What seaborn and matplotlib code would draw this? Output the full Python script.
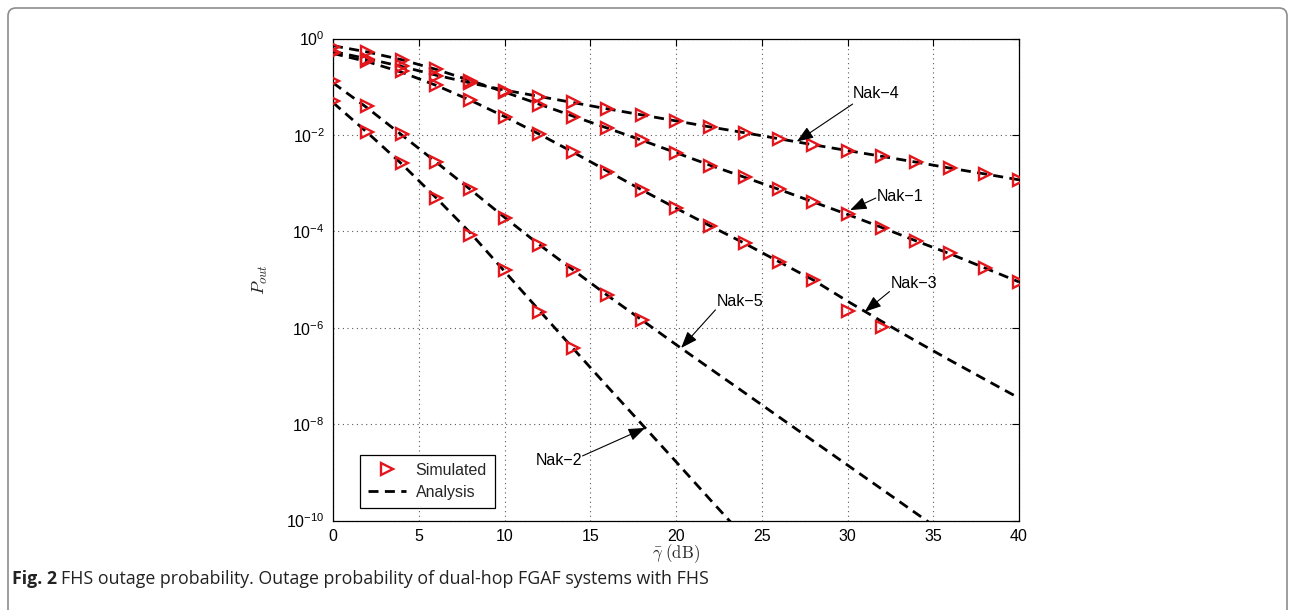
import matplotlib
matplotlib.use("Agg")
import matplotlib.pyplot as plt
import seaborn as sns
import numpy as np
from matplotlib.patches import FancyBboxPatch
from matplotlib.lines import Line2D
from matplotlib.ticker import FixedLocator, NullLocator, LogFormatterSciNotation
from matplotlib.transforms import IdentityTransform

# ---------------- data ----------------
snr = [0, 2, 4, 6, 8, 10, 12, 14, 16, 18, 20, 22, 24, 26, 28, 30, 32, 34, 36, 38, 40]

# simulated points
sim_nak1 = [0.676, 0.513, 0.355, 0.229, 0.129, 0.0776, 0.0417, 0.0240, 0.0138, 7.76e-3,
            4.17e-3, 2.29e-3, 1.35e-3, 7.41e-4, 4.12e-4, 2.25e-4, 1.19e-4, 6.31e-5,
            3.49e-5, 1.71e-5, 9.0e-6]
sim_nak2 = [0.0501, 0.0117, 2.57e-3, 5.01e-4, 8.32e-5, 1.58e-5, 2.15e-6, 3.72e-7]
sim_nak3 = [0.501, 0.339, 0.209, 0.107, 0.0537, 0.0231, 0.0105, 4.49e-3, 1.73e-3, 7.08e-4,
            3.02e-4, 1.29e-4, 5.62e-5, 2.34e-5, 9.77e-6, 2.24e-6, 1.05e-6]
sim_nak4 = [0.513, 0.380, 0.269, 0.170, 0.117, 0.0832, 0.0621, 0.0479, 0.0344, 0.0259,
            0.0197, 0.0144, 0.0111, 8.22e-3, 6.17e-3, 4.71e-3, 3.65e-3, 2.70e-3,
            2.02e-3, 1.52e-3, 1.16e-3]
sim_nak5 = [0.132, 0.0389, 0.0102, 2.79e-3, 7.41e-4, 1.86e-4, 5.25e-5, 1.58e-5, 4.79e-6, 1.45e-6]

# analytical curves
ana_nak1 = [0.708, 0.525, 0.363, 0.229, 0.135, 0.0776, 0.0437, 0.0245, 0.0138, 7.76e-3,
            4.27e-3, 2.34e-3, 1.32e-3, 7.41e-4, 4.07e-4, 2.24e-4, 1.20e-4, 6.31e-5,
            3.39e-5, 1.74e-5, 8.9e-6]
ana_nak2 = [0.0468, 0.0112, 2.51e-3, 5.01e-4, 9.33e-5, 1.48e-5, 2.34e-6, 3.72e-7, 6.03e-8,
            1.0e-8, 1.66e-9, 2.69e-10, 4.47e-11]
ana_nak3 = [0.490, 0.331, 0.200, 0.107, 0.0525, 0.0240, 0.0105, 4.37e-3, 1.78e-3, 7.24e-4,
            3.02e-4, 1.29e-4, 5.62e-5, 2.34e-5, 9.77e-6, 3.55e-6, 1.35e-6, 5.25e-7,
            2.09e-7, 8.51e-8, 3.47e-8]
ana_nak4 = [0.537, 0.380, 0.263, 0.174, 0.120, 0.0851, 0.0631, 0.0468, 0.0347, 0.0260,
            0.0195, 0.0146, 0.0111, 8.32e-3, 6.24e-3, 4.73e-3, 3.59e-3, 2.72e-3,
            2.04e-3, 1.55e-3, 1.17e-3]
ana_nak5 = [0.120, 0.0363, 0.0100, 2.75e-3, 7.41e-4, 1.95e-4, 5.37e-5, 1.58e-5, 4.68e-6,
            1.45e-6, 4.47e-7, 1.41e-7, 4.47e-8, 1.41e-8, 4.47e-9, 1.41e-9, 4.47e-10,
            1.41e-10, 4.47e-11]

xticks = [0, 5, 10, 15, 20, 25, 30, 35, 40]
yticks = [1e-10, 1e-8, 1e-6, 1e-4, 1e-2, 1e0]

# annotations: label, text pos, arrow tail, arrow tip
labels = ["Nak\u22124", "Nak\u22121", "Nak\u22123", "Nak\u22125", "Nak\u22122"]
text_pos = [(30.3, 10**-1.15), (31.7, 10**-3.28), (32.5, 10**-5.08), (22.4, 10**-5.46), (11.8, 10**-8.75)]
arrow_tail = [(30.3, 10**-1.36), (31.65, 10**-3.31), (32.45, 10**-5.25), (22.3, 10**-5.63), (14.55, 10**-8.66)]
arrow_tip = [(27.04, 10**-2.14), (30.15, 10**-3.56), (31.0, 10**-5.67), (20.3, 10**-6.42), (18.2, 10**-8.08)]

# ---------------- style ----------------
sns.set_theme(style="white")
plt.rcParams["font.family"] = ["Liberation Sans", "DejaVu Sans"]
plt.rcParams["mathtext.fontset"] = "cm"
plt.rcParams["axes.edgecolor"] = "black"
plt.rcParams["axes.linewidth"] = 0.8

RED = "#e3161c"
W, H = 1294, 610

fig = plt.figure(figsize=(W / 100, H / 100), dpi=100)
ax = fig.add_axes([333 / W, 1 - 520.5 / H, (1019 - 333) / W, 482 / H])
ax.set_yscale("log")

dash = (0, (3.6, 2.3))
for ana in [ana_nak1, ana_nak2, ana_nak3, ana_nak4, ana_nak5]:
    sns.lineplot(x=snr[:len(ana)], y=ana, ax=ax, color="black", lw=2.0,
                 linestyle=dash, estimator=None, sort=False, zorder=2)

for sim in [sim_nak1, sim_nak2, sim_nak3, sim_nak4, sim_nak5]:
    sns.lineplot(x=snr[:len(sim)], y=sim, ax=ax, color=RED, linestyle="none",
                 marker=">", markersize=8.5, markerfacecolor="none",
                 markeredgecolor=RED, markeredgewidth=1.7, estimator=None,
                 sort=False, zorder=3)

ax.set_xlim(0, 40)
ax.set_ylim(1e-10, 1)
ax.xaxis.set_major_locator(FixedLocator(xticks))
ax.yaxis.set_major_locator(FixedLocator(yticks))
ax.yaxis.set_minor_locator(NullLocator())
ax.yaxis.set_major_formatter(LogFormatterSciNotation())
ax.tick_params(axis="both", which="major", direction="in", top=True, right=True,
               length=5, width=0.8, labelsize=11.5, colors="black", pad=6)
for s in ax.spines.values():
    s.set_visible(True)
    s.set_color("black")
    s.set_linewidth(0.9)

ax.grid(True, which="major", linestyle=(0, (1, 3.2)), color="0.35", linewidth=0.8)
ax.set_axisbelow(True)

ax.set_ylabel(r"$P_{out}$", fontsize=13)
ax.yaxis.set_label_coords((270 - 333) / 686, 0.5)
ax.set_xlabel(r"$\bar{\gamma}\ \mathrm{(dB)}$", fontsize=12)
ax.xaxis.set_label_coords(0.5, -(542 - 520.5) / 482)

for lab, tp, tl, tip in zip(labels, text_pos, arrow_tail, arrow_tip):
    ax.text(tp[0], tp[1], lab, fontsize=11.5, ha="left", va="center", color="black")
    ax.annotate("", xy=tip, xytext=tl,
                arrowprops=dict(arrowstyle="-|>,head_length=0.85,head_width=0.32",
                                color="black", lw=0.8, shrinkA=0, shrinkB=0))

handles = [Line2D([], [], marker=">", linestyle="none", markerfacecolor="none",
                  markeredgecolor=RED, markeredgewidth=1.7, markersize=8.5),
           Line2D([], [], color="black", linestyle=dash, lw=2.0)]
leg = ax.legend(handles, ["Simulated", "Analysis"], loc="lower left",
                bbox_to_anchor=(0.039, 0.026), borderaxespad=0, frameon=True,
                fancybox=False, edgecolor="black", framealpha=1, fontsize=11.5,
                handlelength=2.4, handletextpad=0.6, borderpad=0.5,
                labelspacing=0.45)
leg.get_frame().set_linewidth(0.9)

# outer frame
frame = FancyBboxPatch((8, -30), 1279, H - 8 + 30,
                       boxstyle="round,pad=0,rounding_size=8",
                       transform=IdentityTransform(), fill=False,
                       edgecolor="0.55", linewidth=1.2)
fig.add_artist(frame)

# caption
cap_fs = 12.8
cap_y = 1 - 579 / H
t1 = fig.text(12 / W, cap_y, "Fig. 2", fontsize=cap_fs, fontweight="bold",
              family=["Open Sans", "DejaVu Sans"], va="center", ha="left", color="#222222")
fig.canvas.draw()
bb = t1.get_window_extent()
fig.text((bb.x1 + 4) / W, cap_y,
         "FHS outage probability. Outage probability of dual-hop FGAF systems with FHS",
         fontsize=cap_fs, family=["Open Sans", "DejaVu Sans"], va="center", ha="left",
         color="#222222")

fig.savefig("out.png", dpi=100)
